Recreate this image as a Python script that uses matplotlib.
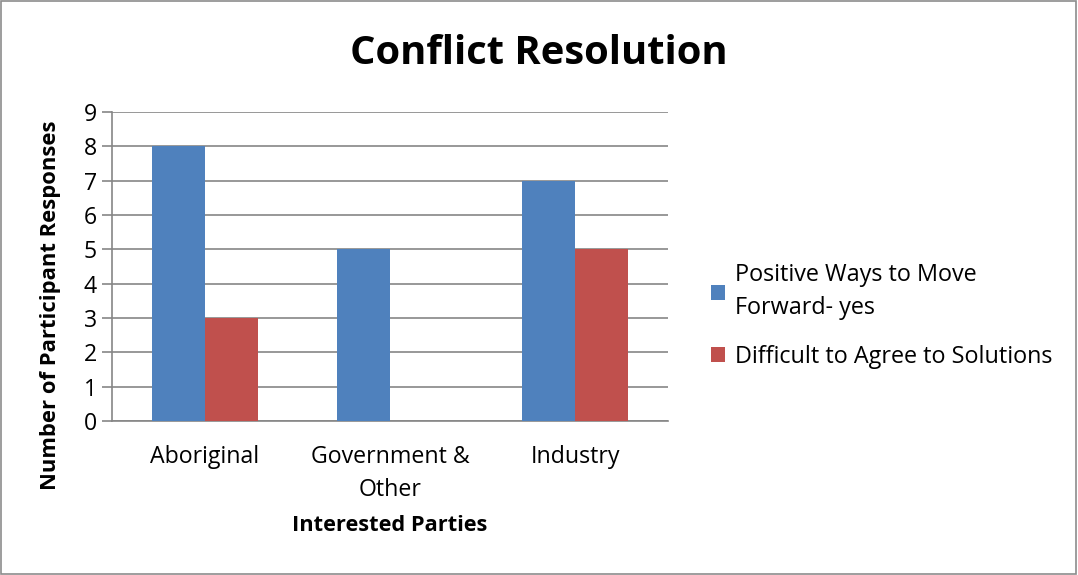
import matplotlib
matplotlib.use("Agg")
import matplotlib.pyplot as plt
import numpy as np

plt.rcParams['font.family'] = ['Open Sans', 'DejaVu Sans']

# data
categories = ["Aboriginal", "Government &\nOther", "Industry"]
positive_yes = [8, 5, 7]
difficult = [3, 0, 5]
series_names = ["Positive Ways to Move\nForward- yes", "Difficult to Agree to Solutions"]
blue = "#4F81BD"
red = "#C0504D"
grid_col = "#868686"

fig = plt.figure(figsize=(10.78, 5.75), dpi=100)
ax = fig.add_axes([0.1039, 0.2678, 0.5158, 0.5374])

x = np.arange(len(categories))
w = 0.286
ax.bar(x - w / 2, positive_yes, w, color=blue, label=series_names[0], zorder=3)
ax.bar(x + w / 2, difficult, w, color=red, label=series_names[1], zorder=3)

ax.set_xlim(-0.5, 2.5)
ax.set_ylim(0, 9)
ax.set_yticks(range(0, 10))
ax.yaxis.grid(True, color=grid_col, linewidth=1.2, zorder=0)
ax.set_axisbelow(True)

for s in ["top", "right"]:
    ax.spines[s].set_visible(False)
for s in ["left", "bottom"]:
    ax.spines[s].set_color(grid_col)
    ax.spines[s].set_linewidth(1.2)

ax.set_xticks(x)
ax.set_xticklabels(categories, fontsize=16.7, linespacing=1.5)
ax.tick_params(axis="x", length=0, pad=17)
ax.tick_params(axis="y", length=7, color=grid_col, width=1.2, labelsize=16.7, pad=4)

ax.set_ylabel("Number of Participant Responses", fontsize=15.8, fontweight="bold")
ax.yaxis.set_label_coords(-0.092, 0.375)
ax.set_xlabel("Interested Parties", fontsize=15.7, fontweight="bold")
ax.xaxis.set_label_coords(0.5, -0.305)

fig.text(0.5, 0.907, "Conflict Resolution", ha="center", va="center",
         fontsize=28.7, fontweight="bold")

leg = ax.legend(loc="center left", bbox_to_anchor=(1.04, 0.34), frameon=False,
                fontsize=16.8, handlelength=0.6, handleheight=0.6, handletextpad=0.4,
                labelspacing=1.05)
for t in leg.get_texts():
    t.set_linespacing(1.5)

# grey frame around the whole chart
fig.patches.append(plt.Rectangle((0.001, 0.001), 0.997, 0.997, transform=fig.transFigure,
                                 fill=False, edgecolor="#8c8c8c", linewidth=1.2))

fig.savefig("out.png", dpi=100)
